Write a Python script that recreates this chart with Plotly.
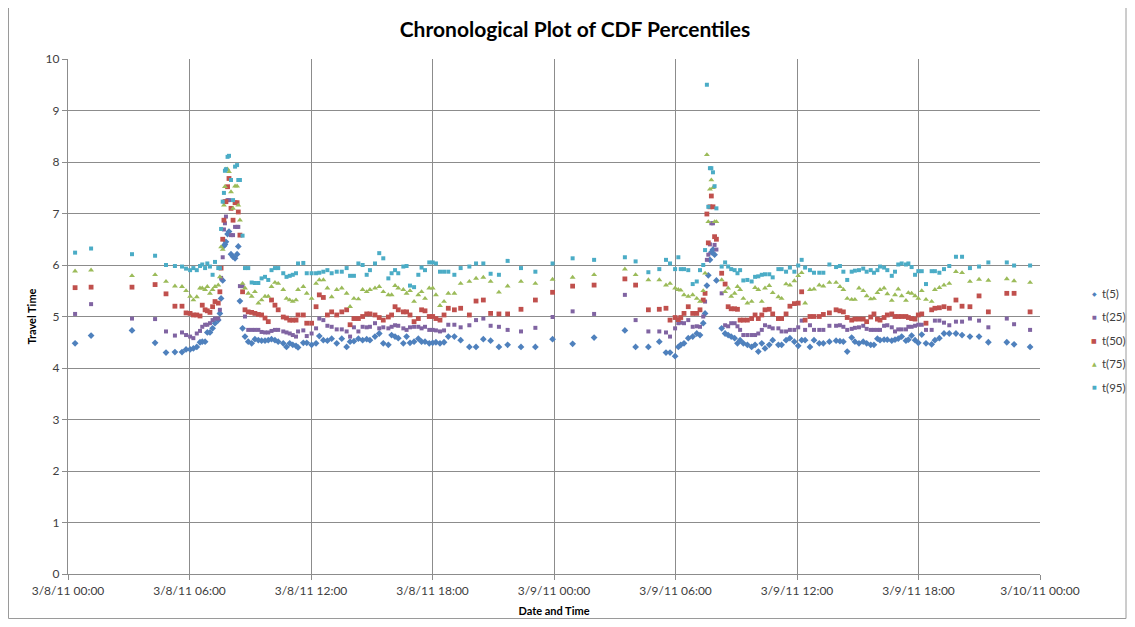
import pandas as pd
import plotly.graph_objects as go

# hours after 3/8/11 00:00
hours = [0.35, 1.14, 3.16, 4.30, 4.84, 5.28, 5.63, 5.83, 6.03, 6.19, 6.36, 6.52, 6.63, 6.77, 6.88, 7.01, 7.14, 7.26, 7.42, 7.50,
         7.56, 7.64, 7.70, 7.75, 7.80, 7.88, 7.95, 8.05, 8.15, 8.25, 8.35, 8.41, 8.49, 8.62, 8.74, 8.90, 9.07, 9.23, 9.40, 9.56,
         9.73, 9.89, 10.05, 10.22, 10.38, 10.63, 10.79, 10.95, 11.10, 11.26, 11.36, 11.62, 11.79, 12.03, 12.25, 12.41, 12.61, 12.81, 13.02, 13.27,
         13.52, 13.76, 13.93, 14.12, 14.34, 14.55, 14.75, 14.91, 15.16, 15.37, 15.57, 15.82, 15.98, 16.15, 16.31, 16.56, 16.72, 16.89, 17.09, 17.30,
         17.46, 17.63, 17.84, 18.01, 18.17, 18.37, 18.57, 18.78, 19.08, 19.39, 19.82, 20.15, 20.51, 20.87, 21.28, 21.71, 22.37, 23.08, 23.93, 24.92,
         25.98, 27.50, 28.03, 28.66, 29.20, 29.53, 29.73, 29.98, 30.14, 30.26, 30.42, 30.63, 30.85, 31.05, 31.21, 31.37, 31.46, 31.55, 31.62, 31.70,
         31.77, 31.85, 31.93, 32.02, 32.28, 32.45, 32.60, 32.75, 32.92, 33.06, 33.19, 33.35, 33.55, 33.76, 33.93, 34.09, 34.26, 34.42, 34.63, 34.80,
         35.08, 35.24, 35.46, 35.65, 35.87, 36.06, 36.23, 36.40, 36.64, 36.84, 37.10, 37.30, 37.60, 37.93, 38.12, 38.29, 38.48, 38.70, 38.86, 39.06,
         39.27, 39.44, 39.64, 39.80, 39.97, 40.10, 40.30, 40.46, 40.68, 40.84, 41.00, 41.17, 41.38, 41.50, 41.66, 41.83, 41.99, 42.16, 42.37, 42.65,
         42.81, 43.03, 43.26, 43.52, 43.85, 44.15, 44.54, 44.99, 45.45, 46.36, 46.72, 47.51]

t5 = [4.48, 4.63, 4.73, 4.49, 4.30, 4.31, 4.31, 4.36, 4.36, 4.38, 4.41, 4.50, 4.51, 4.51, 4.69, 4.69, 4.77, 4.87, 4.93, 5.06,
      5.35, 5.70, 6.37, 6.40, 6.45, 6.60, 6.65, 6.21, 6.16, 6.13, 6.21, 6.36, 5.30, 4.77, 4.61, 4.51, 4.48, 4.56, 4.54, 4.53,
      4.53, 4.54, 4.56, 4.54, 4.51, 4.48, 4.41, 4.48, 4.45, 4.43, 4.40, 4.49, 4.49, 4.45, 4.48, 4.62, 4.54, 4.53, 4.57, 4.48,
      4.57, 4.41, 4.51, 4.52, 4.57, 4.54, 4.56, 4.54, 4.61, 4.67, 4.48, 4.45, 4.64, 4.61, 4.58, 4.48, 4.61, 4.49, 4.51, 4.57,
      4.51, 4.51, 4.48, 4.49, 4.50, 4.48, 4.50, 4.61, 4.61, 4.54, 4.41, 4.41, 4.56, 4.53, 4.41, 4.45, 4.41, 4.41, 4.56, 4.47,
      4.59, 4.73, 4.41, 4.41, 4.51, 4.30, 4.30, 4.23, 4.41, 4.45, 4.48, 4.58, 4.61, 4.67, 4.64, 4.87, 5.06, 5.60, 5.80, 6.10,
      6.25, 6.30, 6.20, 5.70, 4.77, 4.67, 4.64, 4.61, 4.58, 4.48, 4.54, 4.48, 4.45, 4.41, 4.45, 4.32, 4.48, 4.38, 4.45, 4.54,
      4.45, 4.45, 4.54, 4.58, 4.51, 4.43, 4.54, 4.54, 4.41, 4.54, 4.48, 4.48, 4.51, 4.53, 4.52, 4.51, 4.32, 4.59, 4.51, 4.48,
      4.51, 4.48, 4.45, 4.45, 4.57, 4.54, 4.55, 4.55, 4.53, 4.55, 4.57, 4.61, 4.53, 4.55, 4.63, 4.54, 4.49, 4.65, 4.48, 4.46,
      4.54, 4.58, 4.67, 4.67, 4.67, 4.64, 4.61, 4.61, 4.50, 4.50, 4.46, 4.41]

t25 = [5.05, 5.24, 4.96, 4.95, 4.71, 4.63, 4.69, 4.64, 4.61, 4.58, 4.67, 4.72, 4.80, 4.84, 4.84, 4.87, 4.93, 4.96, 4.96, 5.13,
       5.75, 6.15, 6.69, 6.81, 6.94, 7.26, 7.26, 6.58, 6.58, 6.74, 6.74, 6.74, 5.59, 5.59, 5.00, 4.74, 4.74, 4.74, 4.74, 4.70,
       4.69, 4.69, 4.72, 4.74, 4.74, 4.71, 4.69, 4.67, 4.64, 4.61, 4.71, 4.73, 4.62, 4.67, 4.77, 4.96, 4.93, 4.82, 4.80, 4.75,
       4.75, 4.71, 4.61, 4.79, 4.71, 4.80, 4.79, 4.80, 4.87, 4.77, 4.79, 4.77, 4.80, 4.83, 4.82, 4.77, 4.74, 4.79, 4.80, 4.80,
       4.77, 4.80, 4.74, 4.74, 4.73, 4.71, 4.73, 4.84, 4.84, 4.79, 4.83, 4.93, 4.96, 4.82, 4.80, 4.74, 4.71, 4.78, 4.99, 5.10,
       5.05, 5.42, 4.93, 4.71, 4.71, 4.69, 4.61, 4.77, 4.87, 4.88, 4.87, 4.93, 4.80, 4.81, 4.80, 5.00, 5.29, 6.10, 6.20, 6.40,
       6.81, 6.81, 6.39, 6.30, 5.45, 4.83, 4.81, 4.87, 4.87, 4.81, 4.74, 4.64, 4.64, 4.64, 4.64, 4.67, 4.74, 4.83, 4.80, 4.77,
       4.77, 4.71, 4.71, 4.74, 4.74, 4.79, 4.92, 4.74, 4.83, 4.74, 4.74, 4.74, 4.82, 4.82, 4.83, 4.80, 4.74, 4.76, 4.78, 4.79,
       4.82, 4.76, 4.74, 4.74, 4.74, 4.74, 4.82, 4.83, 4.79, 4.71, 4.75, 4.75, 4.75, 4.80, 4.80, 4.82, 4.84, 4.84, 4.74, 4.74,
       4.92, 4.92, 4.88, 4.83, 4.90, 4.90, 4.96, 4.92, 4.79, 4.96, 4.85, 4.74]

t50 = [5.56, 5.57, 5.57, 5.62, 5.44, 5.20, 5.20, 5.07, 5.06, 5.03, 5.03, 5.01, 5.22, 5.13, 5.11, 5.08, 5.19, 5.29, 5.26, 5.48,
       5.94, 6.50, 6.87, 7.23, 7.23, 7.52, 7.68, 7.10, 6.87, 7.21, 7.21, 7.03, 6.58, 5.48, 5.13, 5.09, 5.08, 5.06, 5.04, 5.03,
       4.97, 4.90, 5.32, 5.22, 5.13, 4.99, 4.97, 4.93, 4.93, 4.93, 5.03, 5.03, 4.87, 4.87, 5.19, 5.42, 5.37, 5.03, 5.09, 5.03,
       5.09, 5.13, 4.84, 4.96, 4.96, 5.00, 5.05, 5.05, 5.03, 4.98, 4.93, 4.99, 5.03, 5.19, 5.13, 5.09, 5.09, 5.03, 4.90, 4.96,
       5.13, 5.11, 5.00, 5.00, 4.96, 4.93, 5.03, 5.16, 5.13, 5.16, 5.03, 5.30, 5.32, 5.06, 5.05, 5.05, 5.14, 5.32, 5.47, 5.59,
       5.61, 5.73, 5.61, 5.13, 5.14, 5.16, 4.93, 4.98, 4.94, 4.98, 5.06, 5.19, 5.06, 5.06, 5.13, 5.32, 5.45, 6.99, 6.43, 7.13,
       7.34, 7.13, 6.55, 6.50, 5.84, 5.63, 5.19, 5.15, 5.15, 5.14, 4.93, 4.93, 4.93, 4.96, 5.03, 4.96, 5.03, 5.13, 5.14, 5.05,
       4.96, 4.96, 5.05, 5.20, 5.25, 5.26, 5.48, 4.93, 5.00, 5.00, 5.00, 5.04, 5.07, 5.13, 5.11, 5.09, 4.98, 4.93, 4.95, 4.95,
       4.95, 4.90, 4.99, 5.05, 4.95, 4.93, 4.98, 5.03, 5.05, 5.00, 5.00, 5.00, 5.00, 4.98, 4.96, 4.95, 5.03, 5.05, 4.87, 5.13,
       5.16, 5.17, 5.19, 5.16, 5.32, 5.20, 5.19, 5.40, 5.09, 5.45, 5.45, 5.09]

t75 = [5.88, 5.90, 5.79, 5.81, 5.68, 5.59, 5.58, 5.50, 5.39, 5.32, 5.38, 5.55, 5.55, 5.52, 5.58, 5.45, 5.52, 5.58, 5.61, 5.77,
       6.35, 6.30, 7.16, 7.52, 7.86, 7.86, 7.81, 7.42, 7.10, 7.53, 7.53, 7.16, 6.87, 5.64, 5.55, 5.45, 5.39, 5.48, 5.26, 5.32,
       5.39, 5.39, 5.58, 5.66, 5.64, 5.52, 5.35, 5.32, 5.29, 5.32, 5.52, 5.58, 5.45, 5.35, 5.64, 5.71, 5.71, 5.55, 5.38, 5.52,
       5.55, 5.45, 5.19, 5.35, 5.34, 5.52, 5.48, 5.52, 5.55, 5.58, 5.48, 5.42, 5.42, 5.60, 5.55, 5.52, 5.45, 5.50, 5.29, 5.42,
       5.48, 5.35, 5.55, 5.55, 5.42, 5.21, 5.29, 5.45, 5.45, 5.64, 5.68, 5.74, 5.76, 5.68, 5.47, 5.59, 5.68, 5.64, 5.72, 5.76,
       5.81, 5.92, 5.81, 5.71, 5.71, 5.61, 5.64, 5.55, 5.52, 5.51, 5.42, 5.39, 5.42, 5.35, 5.29, 5.50, 5.84, 8.14, 6.84, 7.47,
       7.65, 7.50, 6.84, 6.84, 5.71, 5.48, 5.55, 5.39, 5.45, 5.58, 5.52, 5.35, 5.26, 5.29, 5.56, 5.52, 5.29, 5.55, 5.60, 5.46,
       5.38, 5.35, 5.63, 5.61, 5.69, 5.79, 5.85, 5.26, 5.52, 5.53, 5.61, 5.59, 5.66, 5.66, 5.58, 5.52, 5.35, 5.33, 5.33, 5.55,
       5.50, 5.40, 5.34, 5.35, 5.46, 5.52, 5.55, 5.44, 5.31, 5.42, 5.53, 5.40, 5.31, 5.46, 5.45, 5.40, 5.35, 5.50, 5.33, 5.29,
       5.52, 5.56, 5.61, 5.64, 5.87, 5.85, 5.68, 5.72, 5.70, 5.73, 5.69, 5.66]

t95 = [6.24, 6.32, 6.21, 6.18, 6.00, 5.98, 5.97, 5.93, 5.90, 5.94, 5.90, 5.98, 6.01, 5.94, 6.03, 5.97, 5.81, 6.06, 5.94, 5.94,
       6.70, 7.23, 7.40, 7.83, 7.86, 8.10, 8.12, 7.65, 7.26, 7.91, 7.94, 7.65, 7.65, 6.57, 5.94, 5.94, 5.66, 5.65, 5.65, 5.74,
       5.77, 5.71, 5.90, 5.94, 5.94, 5.84, 5.77, 5.79, 5.81, 5.84, 6.03, 6.04, 5.84, 5.84, 5.84, 5.85, 5.87, 5.90, 5.84, 5.87,
       5.87, 5.94, 5.79, 5.79, 6.03, 6.00, 5.81, 5.90, 6.03, 6.23, 6.13, 5.74, 5.84, 5.90, 5.84, 5.97, 5.98, 5.60, 5.57, 5.81,
       5.95, 5.90, 6.05, 6.05, 6.03, 5.87, 5.87, 5.87, 5.81, 5.94, 5.97, 6.03, 6.03, 5.83, 5.81, 6.08, 5.94, 5.87, 6.03, 6.13,
       6.10, 6.15, 6.07, 5.86, 5.92, 6.10, 6.03, 5.92, 6.15, 5.92, 5.92, 5.90, 5.63, 5.68, 5.90, 6.00, 6.29, 9.50, 7.13, 7.88,
       7.88, 7.80, 7.53, 7.10, 5.97, 6.05, 5.97, 5.92, 5.90, 5.84, 5.90, 5.70, 5.71, 5.68, 5.77, 5.78, 5.81, 5.82, 5.82, 5.76,
       5.92, 5.92, 5.87, 5.95, 5.87, 5.99, 6.10, 5.95, 5.90, 5.85, 5.85, 5.85, 6.01, 5.96, 5.98, 5.87, 5.71, 5.87, 5.89, 5.90,
       5.93, 5.87, 5.90, 5.85, 5.90, 5.97, 5.95, 5.90, 5.79, 5.87, 6.01, 6.03, 6.01, 6.03, 5.96, 5.81, 5.88, 5.88, 5.63, 5.88,
       5.88, 5.85, 5.92, 5.98, 6.16, 6.16, 5.94, 5.97, 6.05, 6.05, 5.99, 5.99]

series_names = ["t(5)", "t(25)", "t(50)", "t(75)", "t(95)"]
series_values = [t5, t25, t50, t75, t95]
series_colors = ["#4F81BD", "#8064A2", "#C0504D", "#9BBB59", "#4BACC6"]
series_symbols = ["diamond", "square", "square", "triangle-up", "square"]
series_glyphs = ["\u25C6", "\u25A0", "\u25A0", "\u25B2", "\u25A0"]
series_sizes = [5.2, 4, 4.8, 5.2, 4]
glyph_sizes = [6, 5, 6, 6, 5]

tick_hours = [0, 6, 12, 18, 24, 30, 36, 42, 48]
tick_labels = ["3/8/11 00:00", "3/8/11 06:00", "3/8/11 12:00", "3/8/11 18:00", "3/9/11 00:00",
               "3/9/11 06:00", "3/9/11 12:00", "3/9/11 18:00", "3/10/11 00:00"]

base = pd.Timestamp("2011-03-08 00:00")
xs = base + pd.to_timedelta(hours, unit="h")
tick_x = base + pd.to_timedelta(tick_hours, unit="h")

FONT = "Lato, 'Open Sans', sans-serif"

# the page body adds an 8 px margin on every side; size the figure so that
# the page fits the 1135x627 window without scrollbars
W, H = 1119, 611
L, T = 60, 51
PW, PH = 972, 515
R, B = W - L - PW, H - T - PH

fig = go.Figure()
for name, vals, col, sym, sz in zip(series_names, series_values, series_colors, series_symbols, series_sizes):
    fig.add_trace(go.Scatter(
        x=xs, y=vals, mode="markers", name=name, showlegend=False,
        marker=dict(color=col, symbol=sym, size=sz, line=dict(width=0)),
    ))

# legend drawn as annotations (marker glyph + label), stacked at the right
legend_top_px, legend_step_px = 285, 23.5
glyph_x = (1086 - L) / PW
text_x = (1092 - L) / PW
for i, (name, col, g, gs) in enumerate(zip(series_names, series_colors, series_glyphs, glyph_sizes)):
    ypx = legend_top_px + i * legend_step_px
    yp = ((H - B) - ypx) / PH
    fig.add_annotation(xref="paper", yref="paper", x=glyph_x, y=yp, text=g, showarrow=False,
                       xanchor="center", yanchor="middle",
                       font=dict(family="DejaVu Sans", size=gs, color=col))
    fig.add_annotation(xref="paper", yref="paper", x=text_x, y=yp, text=name, showarrow=False,
                       xanchor="left", yanchor="middle",
                       font=dict(family=FONT, size=11.5, color="#404040"))

axis_font = dict(family=FONT, size=12, color="#404040")
fig.update_layout(
    width=W, height=H,
    margin=dict(l=L, r=R, t=T, b=B, autoexpand=False),
    paper_bgcolor="white", plot_bgcolor="white",
    title=dict(text="<b>Chronological Plot of CDF Percentiles</b>", x=567 / W, xanchor="center",
               y=1 - 22 / H, yanchor="middle",
               font=dict(family=FONT, size=21, color="#000000")),
    showlegend=False,
)
fig.update_xaxes(
    type="date", range=[tick_x[0], tick_x[-1]],
    tickmode="array", tickvals=tick_x, ticktext=tick_labels,
    showgrid=True, gridcolor="#8C8C8C", gridwidth=1.3,
    showline=True, linecolor="#8C8C8C", linewidth=1.3,
    ticks="outside", ticklen=5, tickcolor="#8C8C8C",
    tickfont=axis_font, zeroline=False, automargin=False,
    title=dict(text="<b>Date and Time</b>", standoff=10,
               font=dict(family=FONT, size=11, color="#000000")),
)
fig.update_yaxes(
    range=[0, 10], dtick=1,
    showgrid=True, gridcolor="#8C8C8C", gridwidth=1.3,
    showline=True, linecolor="#8C8C8C", linewidth=1.3,
    ticks="outside", ticklen=5, tickcolor="#8C8C8C",
    tickfont=axis_font, zeroline=False, automargin=False,
    title=dict(text="<b>Travel Time</b>", standoff=6,
               font=dict(family=FONT, size=11, color="#000000")),
)
fig.add_shape(type="rect", xref="paper", yref="paper",
              x0=(0.5 - L) / PW, x1=(W - 1 - L) / PW,
              y0=-(H - 0.5 - (H - B)) / PH, y1=((H - B) + 5) / PH,
              line=dict(color="#9A9A9A", width=1), fillcolor="rgba(0,0,0,0)", layer="below")

fig.write_html("out.html")
